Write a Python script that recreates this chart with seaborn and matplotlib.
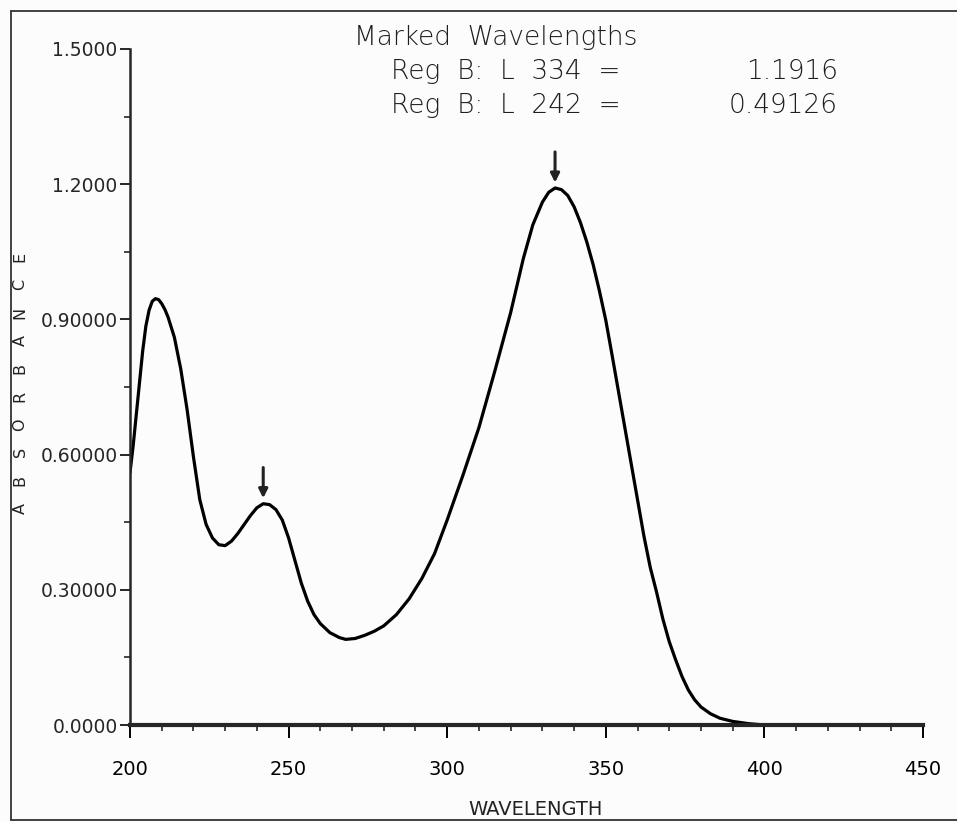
import numpy as np
import pandas as pd
import matplotlib
matplotlib.use("Agg")
import matplotlib.pyplot as plt
from matplotlib.lines import Line2D
from matplotlib.ticker import MultipleLocator, FixedLocator, FixedFormatter
import seaborn as sns

# spectrum (nm, absorbance)
wavelength = [200, 201, 202, 203, 204, 205, 206, 207, 208, 209, 210, 211, 212,
              214, 216, 218, 220, 222, 224, 226, 228, 230, 232, 234, 236, 238,
              240, 242, 244, 246, 248, 250, 252, 254, 256, 258, 260, 263, 266,
              268, 271, 274, 277, 280, 284, 288, 292, 296, 300, 305, 310, 315,
              320, 324, 327, 330, 332, 334, 336, 338, 340, 342, 344, 346, 348,
              350, 352, 354, 356, 358, 360, 362, 364, 366, 368, 370, 372, 374,
              376, 378, 380, 383, 386, 390, 395, 400]
absorbance = [0.56, 0.62, 0.69, 0.76, 0.83, 0.885, 0.92, 0.94, 0.946, 0.944,
              0.935, 0.922, 0.905, 0.86, 0.79, 0.70, 0.595, 0.50, 0.445, 0.415,
              0.40, 0.398, 0.408, 0.425, 0.445, 0.465, 0.482, 0.491, 0.489,
              0.478, 0.455, 0.415, 0.365, 0.315, 0.275, 0.245, 0.225, 0.205,
              0.194, 0.19, 0.192, 0.199, 0.208, 0.22, 0.245, 0.28, 0.325, 0.38,
              0.455, 0.555, 0.66, 0.785, 0.915, 1.035, 1.11, 1.16, 1.182, 1.1916,
              1.188, 1.175, 1.15, 1.115, 1.072, 1.022, 0.963, 0.898, 0.82, 0.74,
              0.66, 0.58, 0.50, 0.42, 0.35, 0.295, 0.235, 0.185, 0.145, 0.108,
              0.078, 0.056, 0.04, 0.025, 0.015, 0.008, 0.003, 0.0]

mark_wl = [334, 242]
mark_abs = [1.1916, 0.49126]
mark_txt = ["1.1916", "0.49126"]

ytick_vals = [0.0, 0.3, 0.6, 0.9, 1.2, 1.5]
ytick_txt = ["0.0000", "0.30000", "0.60000", "0.90000", "1.2000", "1.5000"]
xtick_vals = [200, 250, 300, 350, 400, 450]

df = pd.DataFrame({"wl": wavelength, "abs": absorbance})

sns.set_style("ticks")
plt.rcParams["font.family"] = ["DejaVu Sans"]

W, H = 957, 822
fig = plt.figure(figsize=(W / 100, H / 100), dpi=100)
fig.patch.set_facecolor("#fcfcfc")

def fx(px):
    return px / W

def fy(py):
    return 1 - py / H

ax = fig.add_axes([fx(130), fy(725), fx(923) - fx(130), fy(49) - fy(725)])
ax.set_facecolor("none")

sns.lineplot(data=df, x="wl", y="abs", color="black", lw=2.3, ax=ax,
             sort=False, legend=False)

for wl, a in zip(mark_wl, mark_abs):
    ax.annotate("", xy=(wl, a + 0.012), xytext=(wl, a + 0.08),
                arrowprops=dict(arrowstyle="-|>", color="#222222", lw=2.2,
                                mutation_scale=13, shrinkA=0, shrinkB=0))

ax.set_xlim(200, 450)
ax.set_ylim(0, 1.5)
ax.xaxis.set_major_locator(FixedLocator(xtick_vals))
ax.xaxis.set_minor_locator(MultipleLocator(10))
ax.yaxis.set_major_locator(FixedLocator(ytick_vals))
ax.yaxis.set_major_formatter(FixedFormatter(ytick_txt))
ax.yaxis.set_minor_locator(MultipleLocator(0.15))
ax.set_xlabel("")
ax.set_ylabel("")

for s in ["top", "right"]:
    ax.spines[s].set_visible(False)
ax.spines["bottom"].set_linewidth(3.0)
ax.spines["left"].set_linewidth(1.8)
ax.tick_params(axis="x", which="major", direction="out", length=9, width=1.4,
               pad=16, labelsize=14, colors="black")
ax.tick_params(axis="x", which="minor", direction="out", length=4, width=1.2)
ax.tick_params(axis="y", which="major", direction="out", length=7, width=1.4,
               pad=2, labelsize=13.5)
ax.tick_params(axis="y", which="minor", direction="out", length=4, width=1.2)

# text block at top
tk = dict(fontsize=19, color="#1e1e1e", weight="light", va="baseline")
fig.text(fx(354), fy(45), "Marked  Wavelengths", ha="left", **tk)
for i, (wl, t) in enumerate(zip(mark_wl, mark_txt)):
    base = fy(79 + 34 * i)
    fig.text(fx(391), base, f"Reg  B:  L  {wl}  =", ha="left", **tk)
    fig.text(fx(838), base, t, ha="right", **tk)

# axis titles
fig.text(fx(536), fy(809), "WAVELENGTH", ha="center", va="center",
         fontsize=14, color="#222222")
for i, ch in enumerate("ABSORBANCE"):
    fig.text(fx(20), fy(508 - 27.9 * i), ch, rotation=90, ha="center",
             va="center", fontsize=11.5, color="#222222")

# printout frame
kw = dict(color="#333333", lw=1.3, transform=fig.transFigure)
fig.add_artist(Line2D([fx(11), fx(11)], [fy(11), fy(820)], **kw))
fig.add_artist(Line2D([fx(11), fx(957)], [fy(11), fy(11)], **kw))
fig.add_artist(Line2D([fx(11), fx(957)], [fy(820), fy(820)], **kw))

fig.savefig("out.png", dpi=100, facecolor=fig.get_facecolor())
